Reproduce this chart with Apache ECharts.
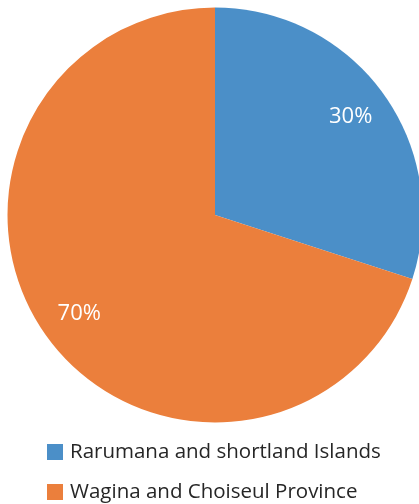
<!DOCTYPE html>
<html>
<head>
<meta charset="utf-8">
<script src="https://cdn.jsdelivr.net/npm/echarts@6/dist/echarts.min.js"></script>
<style>
  html, body {margin: 0; padding: 0; background: #fff;}
  #chart {width: 419px; height: 504px;}
</style>
</head>
<body>
<div id="chart"></div>
<script>
const categories = ['Rarumana and shortland Islands', 'Wagina and Choiseul Province'];
const values = [30, 70];
const colors = ['#4B8FC8', '#EB7F3C'];

const pieData = categories.map((name, i) => ({name, value: values[i], itemStyle: {color: colors[i]}}));

const chart = echarts.init(document.getElementById('chart'));
chart.setOption({
    animation: false,
    legend: {
        orient: 'vertical',
        left: 47,
        top: 438,
        width: 372,
        height: 100,
        padding: 0,
        icon: 'rect',
        itemWidth: 16,
        itemHeight: 16,
        itemGap: 12,
        selectedMode: false,
        textStyle: {
            fontFamily: 'Open Sans',
            fontSize: 20.5,
            lineHeight: 28,
            color: '#262626',
            padding: [0, 0, 0, 2]
        },
        data: categories
    },
    series: [
        {
            type: 'pie',
            center: [215, 215],
            radius: [0, 207.5],
            startAngle: 90,
            clockwise: true,
            label: {show: false},
            labelLine: {show: false},
            silent: true,
            data: pieData
        },
        {
            // transparent ring used only to place the percent labels near the rim
            type: 'pie',
            center: [215, 215],
            radius: [122, 207.5],
            startAngle: 90,
            clockwise: true,
            silent: true,
            itemStyle: {color: 'transparent'},
            label: {
                show: true,
                position: 'inside',
                formatter: p => p.value + '%',
                fontFamily: 'Open Sans',
                fontSize: 22,
                color: '#fff'
            },
            labelLine: {show: false},
            data: categories.map((name, i) => ({name: name + ' ', value: values[i]}))
        }
    ]
});
</script>
</body>
</html>
